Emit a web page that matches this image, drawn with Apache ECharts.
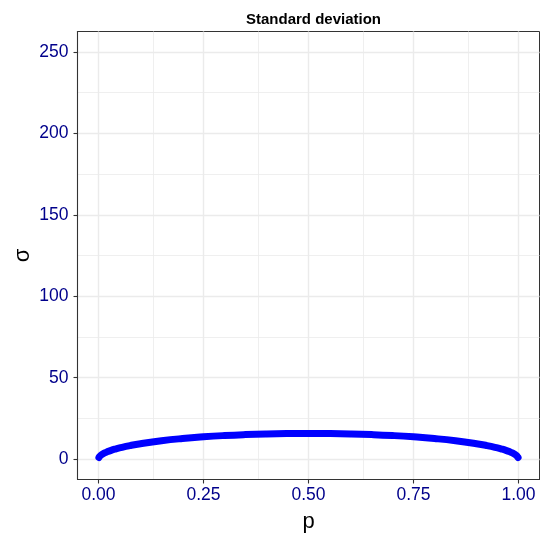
<!DOCTYPE html>
<html>
<head>
<meta charset="utf-8">
<script src="https://cdn.jsdelivr.net/npm/echarts@6/dist/echarts.min.js"></script>
<style>html,body{margin:0;padding:0;background:#fff}#c{width:540px;height:534px}</style>
</head>
<body>
<div id="c"></div>
<script>
// Data
var pValues = [0.001, 0.002, 0.003, 0.005, 0.0075, 0.01, 0.015, 0.02, 0.03, 0.04, 0.05, 0.075, 0.1, 0.15, 0.2, 0.25, 0.3, 0.35, 0.4, 0.45, 0.5,
               0.55, 0.6, 0.65, 0.7, 0.75, 0.8, 0.85, 0.9, 0.925, 0.95, 0.96, 0.97, 0.98, 0.985, 0.99, 0.9925, 0.995, 0.997, 0.998, 0.999];
var sigmaValues = [1.0, 1.41, 1.73, 2.23, 2.72, 3.15, 3.84, 4.43, 5.39, 6.20, 6.89, 8.33, 9.49, 11.29, 12.65, 13.69, 14.49, 15.08, 15.49, 15.73, 15.81,
                   15.73, 15.49, 15.08, 14.49, 13.69, 12.65, 11.29, 9.49, 8.33, 6.89, 6.20, 5.39, 4.43, 3.84, 3.15, 2.72, 2.23, 1.73, 1.41, 1.0];
var xTicks = [0, 0.25, 0.5, 0.75, 1];
var xMinor = [0.125, 0.375, 0.625, 0.875];
var yTicks = [0, 50, 100, 150, 200, 250];
var yMinor = [25, 75, 125, 175, 225];
var xTickLabels = ['0.00', '0.25', '0.50', '0.75', '1.00'];

var labelColor = '#00008B';
var gridColor = '#EBEBEB';

var gridLines = [];
xTicks.forEach(function (v) { gridLines.push({ xAxis: v, lineStyle: { color: gridColor, width: 1.4, type: 'solid' } }); });
xMinor.forEach(function (v) { gridLines.push({ xAxis: v, lineStyle: { color: gridColor, width: 0.8, type: 'solid' } }); });
yTicks.forEach(function (v) { gridLines.push({ yAxis: v, lineStyle: { color: gridColor, width: 1.4, type: 'solid' } }); });
yMinor.forEach(function (v) { gridLines.push({ yAxis: v, lineStyle: { color: gridColor, width: 0.8, type: 'solid' } }); });

var curve = pValues.map(function (p, i) { return [p, sigmaValues[i]]; });

var chart = echarts.init(document.getElementById('c'), null, { renderer: 'canvas' });
chart.setOption({
  animation: false,
  backgroundColor: '#ffffff',
  title: {
    text: 'Standard deviation',
    left: 308.5, top: 7, textAlign: 'center',
    textStyle: { fontFamily: 'Liberation Sans', fontWeight: 'bold', fontSize: 15, color: '#000' }
  },
  graphic: [{
    type: 'text', x: 23, y: 255.5, rotation: Math.PI / 2,
    style: { text: 'σ', fontFamily: 'Liberation Sans', fontSize: 22, fill: '#000', align: 'center', verticalAlign: 'middle' }
  }],
  grid: { left: 77.5, right: 0.5, top: 31.5, bottom: 54.5, show: true, borderColor: '#333', borderWidth: 1,
          backgroundColor: 'transparent', containLabel: false, outerBoundsMode: 'none' },
  xAxis: {
    type: 'value', min: -0.05, max: 1.05,
    name: 'p', nameLocation: 'middle', nameGap: 31,
    nameTextStyle: { fontFamily: 'Liberation Sans', fontSize: 22, color: '#000' },
    axisLine: { show: true, onZero: false, lineStyle: { color: '#333', width: 1.1 } },
    axisTick: { show: true, length: 4, lineStyle: { color: '#333', width: 1.1 }, customValues: xTicks },
    axisLabel: { fontFamily: 'Liberation Sans', fontSize: 17.5, color: labelColor, margin: 7,
      customValues: xTicks,
      formatter: function (v) { var i = xTicks.indexOf(v); return i >= 0 ? xTickLabels[i] : ''; } },
    splitLine: { show: false }
  },
  yAxis: {
    type: 'value', min: -12.5, max: 262.5,
    axisLine: { show: true, onZero: false, lineStyle: { color: '#333', width: 1.1 } },
    axisTick: { show: true, length: 4, lineStyle: { color: '#333', width: 1.1 }, customValues: yTicks },
    axisLabel: { fontFamily: 'Liberation Sans', fontSize: 17.5, color: labelColor, margin: 9, customValues: yTicks },
    splitLine: { show: false }
  },
  series: [
    {
      type: 'line', data: [], z: 0, silent: true,
      markLine: { silent: true, symbol: 'none', label: { show: false }, data: gridLines, animation: false, z: 0 }
    },
    {
      type: 'line', data: curve, z: 5, smooth: true, showSymbol: false, symbol: 'none',
      lineStyle: { color: '#0000FF', width: 7, cap: 'round', join: 'round' }
    }
  ]
});
</script>
</body>
</html>
